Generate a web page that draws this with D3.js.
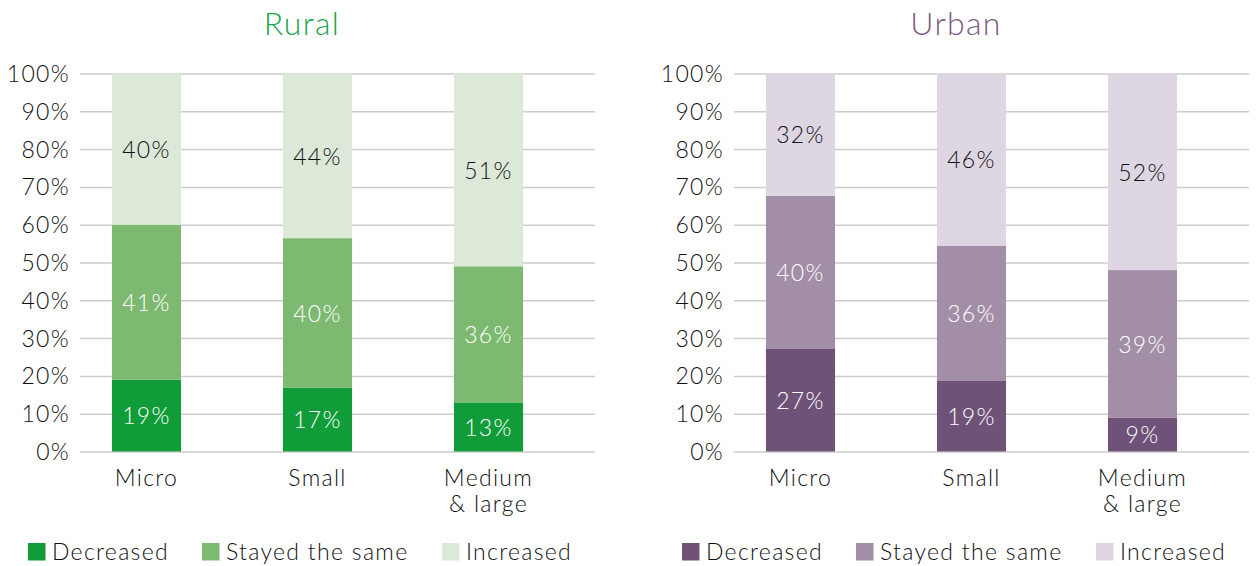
<!DOCTYPE html>
<html>
<head>
<meta charset="utf-8">
<script src="https://cdn.jsdelivr.net/npm/d3@7"></script>
<style>
  html, body { margin: 0; padding: 0; background: #fff; }
  svg { display: block; font-family: "Lato", "Open Sans", sans-serif; font-weight: 300; letter-spacing: 1.3px; }
</style>
</head>
<body>
<svg id="chart" width="1256" height="566"></svg>
<script>
// Business sizes and response categories
const categories = ["Micro", "Small", "Medium\n& large"];
const seriesNames = ["Decreased", "Stayed the same", "Increased"];

// Rural shares (%)
const ruralDecreased = [19, 17, 13];
const ruralStayed    = [41, 40, 36];
const ruralIncreased = [40, 44, 51];

// Urban shares (%)
const urbanDecreased = [27, 19, 9];
const urbanStayed    = [40, 36, 39];
const urbanIncreased = [32, 46, 52];

// Axis ticks
const tickValues = [0, 0.1, 0.2, 0.3, 0.4, 0.5, 0.6, 0.7, 0.8, 0.9, 1];

const panels = [
  {
    title: "Rural", titleColor: "#1ba44a", offset: 0,
    values: [ruralDecreased, ruralStayed, ruralIncreased],
    colors: ["#0f9c39", "#7db970", "#dde9d8"],
    labelColors: ["#fff", "#fff", "#111"]
  },
  {
    title: "Urban", titleColor: "#7a5a83", offset: 654,
    values: [urbanDecreased, urbanStayed, urbanIncreased],
    colors: ["#6f5277", "#a38ea8", "#ded7e3"],
    labelColors: ["#fff", "#fff", "#111"]
  }
];

const svg = d3.select("#chart");
const gridLeft = 80, gridRight = 595;
const fontSize = 23;
const textColor = "#111";
const y = d3.scaleLinear().domain([0, 1]).range([451.5, 73.5]);

panels.forEach(p => {
  const g = svg.append("g").attr("transform", `translate(${p.offset},0)`);

  // Title
  g.append("text")
    .attr("x", 302).attr("y", 35)
    .attr("text-anchor", "middle")
    .attr("font-size", 32)
    .attr("fill", p.titleColor)
    .text(p.title);

  // Y axis with gridlines
  const axis = d3.axisLeft(y)
    .tickValues(tickValues)
    .tickFormat(d3.format(".0%"))
    .tickSizeInner(-(gridRight - gridLeft))
    .tickSizeOuter(0)
    .tickPadding(10);
  const ag = g.append("g").attr("transform", `translate(${gridLeft},0)`).call(axis);
  ag.attr("font-family", null).attr("font-size", null);
  ag.select(".domain").remove();
  ag.selectAll(".tick line").attr("stroke", "#cdcdcd").attr("stroke-width", 1.5);
  ag.selectAll(".tick text")
    .attr("font-size", fontSize)
    .attr("fill", textColor)
    .attr("dy", "0.35em");

  // Band scale for categories
  const x = d3.scaleBand()
    .domain(categories)
    .range([61, 574])
    .paddingInner(0.596)
    .paddingOuter(0.298);

  // Stack rows, normalised to 100%
  const rows = categories.map((c, i) => {
    const r = { cat: c };
    seriesNames.forEach((s, k) => { r[s] = p.values[k][i]; });
    return r;
  });
  const stacked = d3.stack().keys(seriesNames).offset(d3.stackOffsetExpand)(rows);

  stacked.forEach((layer, k) => {
    const lg = g.append("g");
    lg.selectAll("rect")
      .data(layer)
      .join("rect")
      .attr("x", d => x(d.data.cat))
      .attr("width", x.bandwidth())
      .attr("y", d => y(d[1]))
      .attr("height", d => y(d[0]) - y(d[1]))
      .attr("fill", p.colors[k]);

    lg.selectAll("text")
      .data(layer)
      .join("text")
      .attr("x", d => x(d.data.cat) + x.bandwidth() / 2)
      .attr("y", d => (y(d[0]) + y(d[1])) / 2)
      .attr("dy", "0.38em")
      .attr("text-anchor", "middle")
      .attr("font-size", fontSize)
      .attr("fill", p.labelColors[k])
      .text(d => d.data[layer.key] + "%");
  });

  // Category labels
  categories.forEach(c => {
    const lines = c.split("\n");
    const t = g.append("text")
      .attr("text-anchor", "middle")
      .attr("font-size", fontSize)
      .attr("fill", textColor);
    lines.forEach((ln, li) => {
      t.append("tspan")
        .attr("x", x(c) + x.bandwidth() / 2)
        .attr("y", 486 + li * 26)
        .text(ln);
    });
  });

  // Legend
  const legendX = [28, 202, 442];
  seriesNames.forEach((s, k) => {
    g.append("rect")
      .attr("x", legendX[k]).attr("y", 543)
      .attr("width", 17.5).attr("height", 17.5)
      .attr("fill", p.colors[k]);
    g.append("text")
      .attr("x", legendX[k] + 24).attr("y", 559.5)
      .attr("font-size", fontSize)
      .attr("fill", textColor)
      .text(s);
  });
});
</script>
</body>
</html>
